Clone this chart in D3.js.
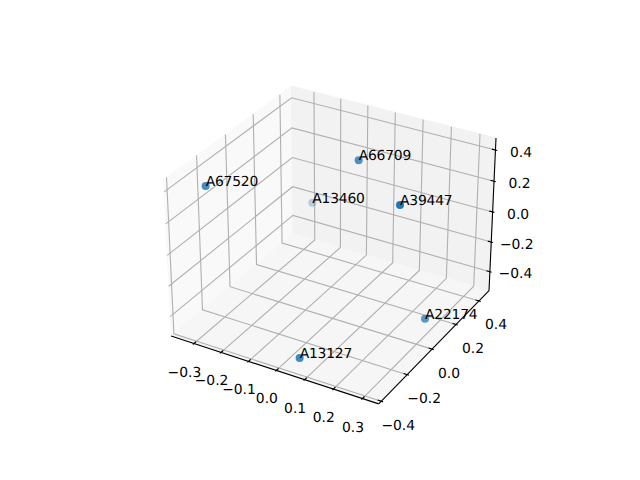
<!DOCTYPE html>
<html>
<head>
<meta charset="utf-8">
<script src="https://cdn.jsdelivr.net/npm/d3@7"></script>
<style>html,body{margin:0;padding:0;background:#fff}svg{display:block}text{text-rendering:geometricPrecision}</style>
</head>
<body>
<div id="chart"></div>
<script>
const labels = ["A67520", "A13460", "A66709", "A39447", "A22174", "A13127"];
const xValues = [-0.3368, -0.2811, 0.0246, 0.2573, 0.3075, 0.052];
const yValues = [-0.2347, 0.4318, 0.1447, -0.0553, 0.0495, -0.3562];
const zValues = [0.3313, -0.2181, 0.4087, 0.3828, -0.3962, -0.4702];
const xTicks = [-0.3, -0.2, -0.1, 0.0, 0.1, 0.2, 0.3];
const yTicks = [-0.4, -0.2, 0.0, 0.2, 0.4];
const zTicks = [-0.4, -0.2, 0.0, 0.2, 0.4];
const xLim = [-0.3705, 0.3405];
const yLim = [-0.401, 0.471];
const zLim = [-0.5098, 0.4556];

(function () {
const W = 640, H = 480;
const svg = d3.select("#chart").append("svg").attr("width", W).attr("height", H);
const fontFamily = "'DejaVu Sans', sans-serif";
const fontSize = 13.89;

// mplot3d-style camera: elev 30, azim -60, box aspect 4:4:3
const elev = 30 * Math.PI / 180, azim = -60 * Math.PI / 180, dist = 10;
const norm = Math.hypot(4, 4, 3), k = 1.8294640721620434 / norm;
const box = [4 * k, 4 * k, 3 * k];
const sx = d3.scaleLinear().domain(xLim).range([0, box[0]]);
const sy = d3.scaleLinear().domain(yLim).range([0, box[1]]);
const sz = d3.scaleLinear().domain(zLim).range([0, box[2]]);
const n = [Math.cos(elev) * Math.cos(azim), Math.cos(elev) * Math.sin(azim), Math.sin(elev)];
const uL = Math.hypot(n[0], n[1]);
const u = [-n[1] / uL, n[0] / uL, 0];
const v = [n[1] * u[2] - n[2] * u[1], n[2] * u[0] - n[0] * u[2], n[0] * u[1] - n[1] * u[0]];
const dot = (a, b) => a[0] * b[0] + a[1] * b[1] + a[2] * b[2];

// Axes rectangle of the 3D subplot
const axLeft = 143.2, axRight = 512.8, axTop = 57.6, axBottom = 427.2;
const screenX = d3.scaleLinear().domain([-0.95 / dist, 0.9 / dist]).range([axLeft, axRight]);
const screenY = d3.scaleLinear().domain([-0.95 / dist, 0.9 / dist]).range([axBottom, axTop]);

function camera(x, y, z) {
  const d = [sx(x) - box[0] / 2, sy(y) - box[1] / 2, sz(z) - box[2] / 2];
  const w = dist - dot(d, n);
  return { px: screenX(dot(d, u) / w), py: screenY(dot(d, v) / w), depth: dot(d, n) };
}
const P = (x, y, z) => { const c = camera(x, y, z); return [c.px, c.py]; };
const line3 = pts => d3.line()(pts.map(p => P(p[0], p[1], p[2])));
const grow = lim => { const e = (lim[1] - lim[0]) / 48; return [lim[0] - e, lim[1] + e]; };
const [x0, x1] = grow(xLim), [y0, y1] = grow(yLim), [z0, z1] = grow(zLim);

// panes
const panes = [
  { c: "#f9f9f9", pts: [[x0, y0, z0], [x0, y1, z0], [x0, y1, z1], [x0, y0, z1]] },
  { c: "#f2f2f2", pts: [[x0, y1, z0], [x1, y1, z0], [x1, y1, z1], [x0, y1, z1]] },
  { c: "#f6f6f6", pts: [[x0, y0, z0], [x1, y0, z0], [x1, y1, z0], [x0, y1, z0]] }
];
svg.append("g").selectAll("path").data(panes).join("path")
  .attr("d", d => line3(d.pts) + "Z")
  .attr("fill", d => d.c).attr("stroke", d => d.c).attr("stroke-width", 1);

// grid
const gridLines = [
  ...xTicks.map(t => [[t, y0, z0], [t, y1, z0], [t, y1, z1]]),
  ...yTicks.map(t => [[x1, t, z0], [x0, t, z0], [x0, t, z1]]),
  ...zTicks.map(t => [[x0, y0, t], [x0, y1, t], [x1, y1, t]])
];
svg.append("g").selectAll("path").data(gridLines).join("path")
  .attr("d", line3).attr("fill", "none").attr("stroke", "#b0b0b0").attr("stroke-width", 1.11);

// axis lines
const axisLines = [
  [[x0, y0, z0], [x1, y0, z0]],
  [[x1, y0, z0], [x1, y1, z0]],
  [[x1, y1, z0], [x1, y1, z1]]
];
svg.append("g").selectAll("path").data(axisLines).join("path")
  .attr("d", line3).attr("fill", "none").attr("stroke", "#000").attr("stroke-width", 1.11);

// ticks and tick labels
const dY = (y1 - y0) / 12, dXx = (x1 - x0) / 12;
const tickSegs = [
  ...xTicks.map(t => [[t, y0 + 0.2 * dY, z0], [t, y0 - 0.1 * dY, z0]]),
  ...yTicks.map(t => [[x1 - 0.2 * dXx, t, z0], [x1 + 0.1 * dXx, t, z0]]),
  ...zTicks.map(t => [[x1 - 0.2 * dXx, y1, t], [x1 + 0.1 * dXx, y1, t]])
];
svg.append("g").selectAll("path").data(tickSegs).join("path")
  .attr("d", line3).attr("fill", "none").attr("stroke", "#000").attr("stroke-width", 1.11);

const fmt = t => d3.format(".1f")(t).replace("-", "\u2212");
const tickLabels = [
  ...xTicks.map(t => ({ t, p: P(t, y0, z0), off: [-9.5, 29] })),
  ...yTicks.map(t => ({ t, p: P(x1, t, z0), off: [17, 24.5] })),
  ...zTicks.map(t => ({ t, p: P(x1, y1, t), off: [25.5, 2.6] }))
];
svg.append("g").selectAll("text").data(tickLabels).join("text")
  .attr("x", d => d.p[0] + d.off[0]).attr("y", d => d.p[1] + d.off[1])
  .attr("text-anchor", "middle").attr("dominant-baseline", "central")
  .attr("font-family", fontFamily).attr("font-size", fontSize).attr("fill", "#000")
  .text(d => fmt(d.t));

// scatter with depth shading
const points = labels.map((name, i) => ({ name, ...camera(xValues[i], yValues[i], zValues[i]) }));
const alpha = d3.scaleLinear().domain(d3.extent(points, d => d.depth)).range([0.3, 1]);
const sorted = points.slice().sort((a, b) => a.depth - b.depth);
svg.append("g").selectAll("circle").data(sorted).join("circle")
  .attr("cx", d => d.px).attr("cy", d => d.py).attr("r", 4)
  .attr("fill", "#1f77b4").attr("stroke", "none")
  .attr("fill-opacity", d => alpha(d.depth));

svg.append("g").selectAll("text").data(points).join("text")
  .attr("x", d => d.px).attr("y", d => d.py)
  .attr("font-family", fontFamily).attr("font-size", fontSize).attr("fill", "#000")
  .attr("letter-spacing", -0.2)
  .text(d => d.name);
})();
</script>
</body>
</html>
